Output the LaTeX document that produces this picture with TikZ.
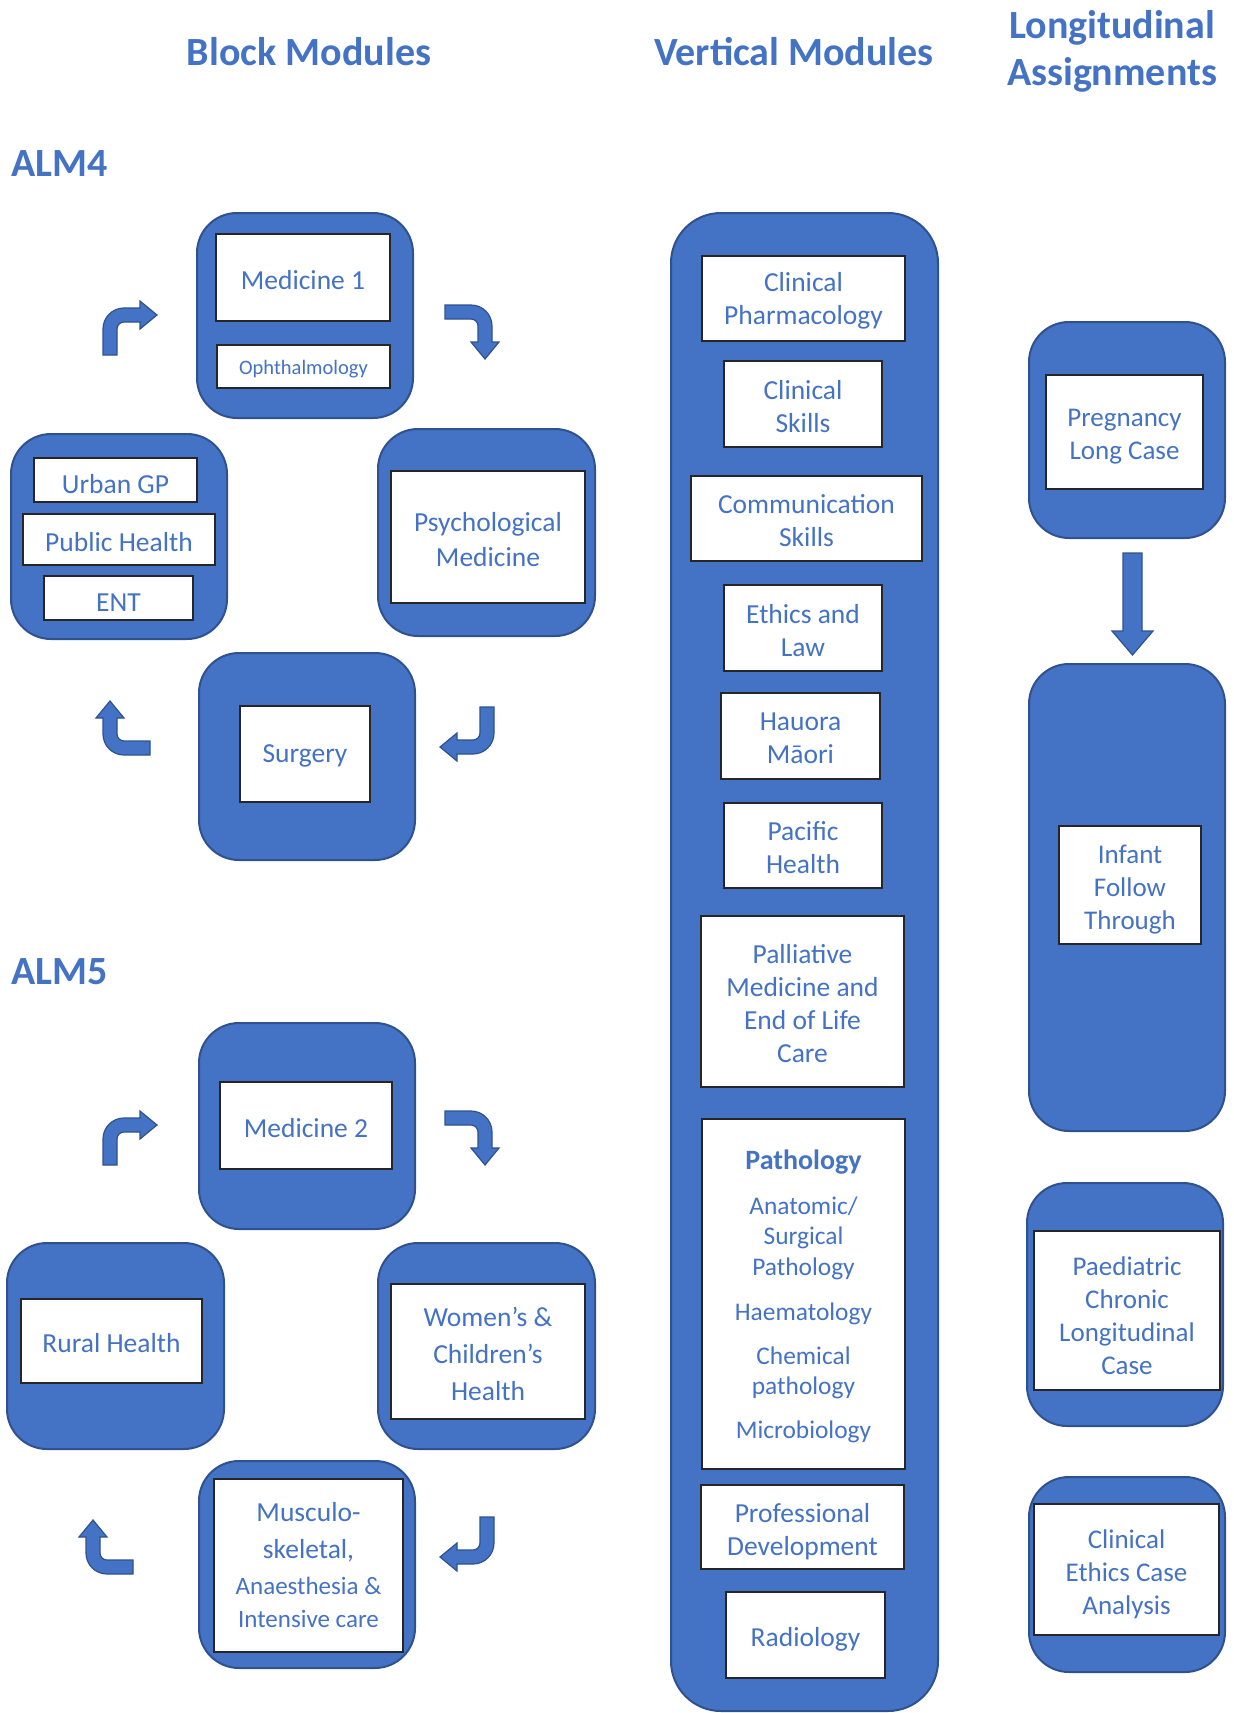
\documentclass[tikz,border=0pt]{standalone}
\usepackage{fontspec}
\setmainfont{Carlito}
\usetikzlibrary{fit}
\definecolor{ob}{HTML}{4472C4}
\definecolor{obd}{HTML}{2F528F}
\definecolor{ibd}{HTML}{262626}
\begin{document}
\begin{tikzpicture}[x=0.5pt,y=-0.5pt,
  outerbox/.style={draw=obd, fill=ob, line width=1pt, rounded corners=20pt, inner sep=0pt},
  innerbox/.style={draw=ibd, fill=white, line width=0.8pt, inner sep=0pt},
  ibtext/.style={align=center, text=ob, inner sep=0pt, yshift=-1.2pt},
  bm/.style={font=\fontsize{13.75}{17.5}\selectfont},
  vm/.style={font=\fontsize{13.75}{16.5}\selectfont},
  rm/.style={font=\fontsize{13.5}{16.5}\selectfont, yshift=-1.2pt},
  txt/.style={inner sep=0pt, text=ob, text height=0.66em, text depth=0pt},
  heading/.style={text=ob, font=\bfseries\fontsize{20}{23.5}\selectfont, align=center, inner sep=0pt},
  bentarrow/.style={fill=ob, draw=obd, line width=0.6pt},
  bentarr/.pic={\draw[bentarrow] (-27,27) -- (-27,1) .. controls (-27,-10.6) and (-17.6,-20) .. (-6,-20) -- (10,-20) -- (10,-27) -- (27,-13) -- (10,1) -- (10,-6) -- (-6,-6) .. controls (-9.87,-6) and (-13,-2.87) .. (-13,1) -- (-13,27) -- cycle;}
]
\useasboundingbox (0,0) rectangle (1233,1713);

% headings
\node[heading] (hblock) at (309,52) {Block Modules};
\node[heading] (hvert) at (794,52) {Vertical Modules};
\node[heading] (hlong) at (1112,51) {Longitudinal\\Assignments};
\node[heading, anchor=west] (alm4) at (11,164) {ALM4};
\node[heading, anchor=west] (alm5) at (11,972) {ALM5};

% ALM4
\node[outerbox, fit={(197,213) (413,418)}] (m1o) {};
\node[innerbox, fit={(216,234) (390,321)}, label={[ibtext, bm]center:Medicine 1}] (m1) {};
\node[innerbox, fit={(217,345) (390,388)}, label={[ibtext, font=\fontsize{10.25}{12}\selectfont]center:Ophthalmology}] (oph) {};
\node[outerbox, fit={(11,434) (227,639)}] (ugo) {};
\node[innerbox, fit={(34,458) (197,502)}, label={[ibtext, bm, yshift=-0.8pt]center:Urban GP}] (ugp) {};
\node[innerbox, fit={(23,514) (215,565)}, label={[ibtext, bm]center:Public Health}] (ph) {};
\node[innerbox, fit={(44,576) (193,620)}, label={[ibtext, bm, yshift=-1pt]center:ENT}] (ent) {};
\node[outerbox, fit={(378,429) (595,636)}] (pso) {};
\node[innerbox, fit={(391,471) (585,603)}, label={[ibtext, bm]center:{Psychological\\Medicine}}] (ps) {};
\node[outerbox, fit={(199,653) (415,860)}] (suo) {};
\node[innerbox, fit={(240,706) (370,802)}, label={[ibtext, bm]center:Surgery}] (su) {};

\pic at (130,328) {bentarr};
\pic[rotate=-90] at (472,332) {bentarr};
\pic[rotate=180] at (467,734) {bentarr};
\pic[rotate=90] at (123,728) {bentarr};

% ALM5
\node[outerbox, fit={(199,1023) (415,1229)}] (m2o) {};
\node[innerbox, fit={(220,1082) (392,1169)}, label={[ibtext, bm]center:Medicine 2}] (m2) {};
\node[outerbox, fit={(7,1243) (224,1449)}] (rho) {};
\node[innerbox, fit={(21,1299) (202,1383)}, label={[ibtext, bm]center:Rural Health}] (rh) {};
\node[outerbox, fit={(378,1243) (595,1449)}] (wco) {};
\node[innerbox, fit={(391,1284) (585,1419)}, label={[ibtext, font=\fontsize{13.75}{18.5}\selectfont]center:{Women’s \&\\Children’s\\Health}}] (wc) {};
\node[outerbox, fit={(199,1461) (415,1668)}] (mso) {};
\node[innerbox, fit={(214,1479) (403,1652)}] (ms) {};
\node[txt, font=\fontsize{13.75}{16}\selectfont] (ms1) at (308.5,1515) {Musculo-};
\node[txt, font=\fontsize{13.75}{16}\selectfont] (ms2) at (308.5,1552) {skeletal,};
\node[txt, font=\fontsize{12.5}{15}\selectfont] (ms3) at (308.5,1588) {Anaesthesia \&};
\node[txt, font=\fontsize{12.5}{15}\selectfont] (ms4) at (308.5,1621) {Intensive care};

\pic at (130,1138) {bentarr};
\pic[rotate=-90] at (472,1138) {bentarr};
\pic[rotate=180] at (467,1544) {bentarr};
\pic[rotate=90] at (106,1547) {bentarr};

% Vertical modules
\node[outerbox, rounded corners=25pt, fit={(671,213) (938,1711)}] (vcol) {};
\node[innerbox, fit={(702,256) (905,341)}, label={[ibtext, vm]center:{Clinical\\Pharmacology}}] (cp) {};
\node[innerbox, fit={(724,361) (882,447)}, label={[ibtext, vm]center:{Clinical\\Skills}}] (cs) {};
\node[innerbox, fit={(691,476) (922,561)}, label={[ibtext, vm]center:{Communication\\Skills}}] (cm) {};
\node[innerbox, fit={(724,585) (882,671)}, label={[ibtext, vm]center:{Ethics and\\Law}}] (el) {};
\node[innerbox, fit={(721,693) (880,779)}, label={[ibtext, vm]center:{Hauora\\Māori}}] (hm) {};
\node[innerbox, fit={(724,803) (882,888)}, label={[ibtext, vm]center:{Pacific\\Health}}] (pa) {};
\node[innerbox, fit={(701,916) (904,1087)}, label={[ibtext, vm]center:{Palliative\\Medicine and\\End of Life\\Care}}] (pm) {};
\node[innerbox, fit={(702,1119) (905,1469)}] (pt) {};
\node[txt, font=\bfseries\fontsize{14}{16}\selectfont] (pt1) at (803.5,1163) {Pathology};
\node[txt, font=\fontsize{12.7}{15}\selectfont] (pt2) at (803.5,1208) {Anatomic/};
\node[txt, font=\fontsize{12.7}{15}\selectfont] (pt3) at (803.5,1238) {Surgical};
\node[txt, font=\fontsize{12.7}{15}\selectfont] (pt4) at (803.5,1269) {Pathology};
\node[txt, font=\fontsize{12.7}{15}\selectfont] (pt5) at (803.5,1314) {Haematology};
\node[txt, font=\fontsize{12.7}{15}\selectfont] (pt6) at (803.5,1358) {Chemical};
\node[txt, font=\fontsize{12.7}{15}\selectfont] (pt7) at (803.5,1388) {pathology};
\node[txt, font=\fontsize{12.7}{15}\selectfont] (pt8) at (803.5,1432) {Microbiology};
\node[innerbox, fit={(701,1485) (904,1569)}, label={[ibtext, vm, yshift=-1.2pt]center:{Professional\\Development}}] (pd) {};
\node[innerbox, fit={(726,1592) (885,1678)}, label={[ibtext, vm, yshift=-1pt]center:Radiology}] (rad) {};

% Longitudinal assignments
\node[outerbox, fit={(1029,322) (1225,538)}] (pgo) {};
\node[innerbox, fit={(1046,375) (1203,489)}, label={[ibtext, rm]center:{Pregnancy\\Long Case}}] (pg) {};
\node[outerbox, fit={(1029,664) (1225,1131)}] (ifo) {};
\node[innerbox, fit={(1059,826) (1201,944)}, label={[ibtext, rm]center:{Infant\\Follow\\Through}}] (inf) {};
\node[outerbox, fit={(1027,1183) (1223,1426)}] (pco) {};
\node[innerbox, fit={(1034,1231) (1220,1390)}, label={[ibtext, rm]center:{Paediatric\\Chronic\\Longitudinal\\Case}}] (pc) {};
\node[outerbox, fit={(1029,1477) (1225,1672)}] (ceo) {};
\node[innerbox, fit={(1034,1504) (1219,1635)}, label={[ibtext, rm]center:{Clinical\\Ethics Case\\Analysis}}] (ce) {};

\draw[bentarrow] (1123,553) -- (1142,553) -- (1142,631) -- (1153,631) -- (1132.5,655) -- (1112,631) -- (1123,631) -- cycle;
\end{tikzpicture}
\end{document}
